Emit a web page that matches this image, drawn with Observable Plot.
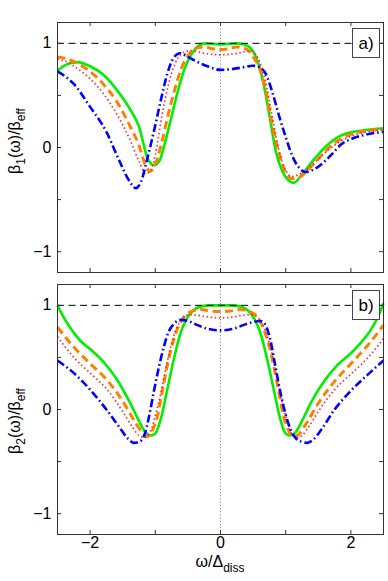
<!DOCTYPE html>
<html>
<head>
<meta charset="utf-8">
<script src="https://cdn.jsdelivr.net/npm/d3@7"></script>
<script src="https://cdn.jsdelivr.net/npm/@observablehq/plot@0.6"></script>
<style>
  html, body { margin: 0; padding: 0; background: #fff; }
  #chart svg { display: block; }
</style>
</head>
<body>
<div id="chart"></div>
<script>
// ---------- Data ----------
const xTicks = [-2, -1, 0, 1, 2];
const xTickLabels = [-2, 0, 2];
const yTicks = [-1, -0.5, 0, 0.5, 1];
const yTickLabels = [-1, 0, 1];
const refLine = [1];
const centerLine = [0];
const panelLabels = ["a)", "b)"];

// Panel a
const aGreenX = [-2.5,-2.35,-2.2,-2.0,-1.8,-1.6,-1.4,-1.25,-1.12,-1.02,-0.93,-0.85,-0.75,-0.65,-0.55,-0.45,-0.35,-0.25,-0.1,0,0.1,0.25,0.35,0.45,0.55,0.65,0.75,0.85,0.95,1.05,1.12,1.25,1.4,1.6,1.8,2.0,2.2,2.5];
const aGreenY = [0.74,0.80,0.82,0.78,0.70,0.56,0.38,0.20,-0.10,-0.17,-0.12,0.05,0.30,0.55,0.76,0.89,0.97,1.0,0.995,0.99,0.995,1.0,0.99,0.96,0.86,0.64,0.31,-0.04,-0.23,-0.32,-0.34,-0.26,-0.14,0.0,0.10,0.145,0.165,0.185];

const aOrangeX = [-2.5,-2.35,-2.2,-2.0,-1.8,-1.6,-1.4,-1.25,-1.15,-1.08,-1.0,-0.9,-0.8,-0.7,-0.6,-0.5,-0.4,-0.25,-0.1,0,0.1,0.25,0.4,0.5,0.6,0.7,0.8,0.9,1.0,1.1,1.2,1.35,1.5,1.7,1.9,2.1,2.3,2.5];
const aOrangeY = [0.87,0.85,0.81,0.73,0.61,0.45,0.22,0.02,-0.17,-0.23,-0.16,0.05,0.32,0.56,0.76,0.88,0.95,0.965,0.945,0.94,0.945,0.965,0.945,0.87,0.76,0.53,0.2,-0.06,-0.24,-0.30,-0.29,-0.21,-0.11,0.02,0.10,0.145,0.165,0.18];

const aRedX = [-2.5,-2.35,-2.2,-2.0,-1.8,-1.6,-1.4,-1.25,-1.15,-1.07,-1.0,-0.9,-0.8,-0.7,-0.6,-0.45,-0.3,-0.15,0,0.15,0.3,0.45,0.58,0.68,0.8,0.9,1.0,1.1,1.2,1.35,1.5,1.7,1.9,2.1,2.3,2.5];
const aRedY = [0.85,0.82,0.76,0.66,0.52,0.33,0.09,-0.13,-0.25,-0.22,-0.07,0.30,0.60,0.80,0.90,0.93,0.91,0.895,0.89,0.895,0.91,0.93,0.85,0.66,0.27,-0.04,-0.22,-0.28,-0.26,-0.2,-0.11,0.0,0.08,0.13,0.155,0.17];

const aBlueX = [-2.5,-2.25,-2.0,-1.75,-1.55,-1.4,-1.3,-1.22,-1.12,-1.02,-0.92,-0.82,-0.72,-0.62,-0.5,-0.35,-0.2,0,0.2,0.35,0.5,0.6,0.7,0.8,0.9,1.0,1.1,1.2,1.3,1.4,1.55,1.7,1.85,2.0,2.2,2.5];
const aBlueY = [0.73,0.61,0.39,0.15,-0.13,-0.32,-0.39,-0.33,-0.10,0.16,0.44,0.70,0.86,0.905,0.87,0.82,0.78,0.745,0.755,0.77,0.785,0.77,0.70,0.52,0.30,0.10,-0.08,-0.19,-0.235,-0.22,-0.16,-0.07,0.03,0.08,0.12,0.15];

// Panel b
const bGreenX = [-2.5,-2.4,-2.3,-2.15,-2.0,-1.8,-1.6,-1.4,-1.25,-1.15,-1.07,-1.0,-0.92,-0.82,-0.72,-0.62,-0.52,-0.42,-0.3,-0.15,0,0.15,0.3,0.42,0.52,0.62,0.72,0.82,0.92,1.0,1.07,1.15,1.25,1.4,1.6,1.8,2.0,2.15,2.3,2.4,2.5];
const bGreenY = [1.0,0.88,0.78,0.66,0.58,0.46,0.30,0.08,-0.11,-0.22,-0.25,-0.23,-0.10,0.18,0.47,0.72,0.87,0.95,0.99,1.0,1.0,1.0,0.99,0.95,0.87,0.72,0.47,0.18,-0.10,-0.23,-0.25,-0.22,-0.11,0.08,0.28,0.43,0.54,0.64,0.76,0.87,1.02];

const bOrangeX = [-2.5,-2.25,-2.0,-1.75,-1.5,-1.3,-1.2,-1.12,-1.05,-0.97,-0.87,-0.77,-0.67,-0.56,-0.45,-0.3,-0.15,0,0.15,0.3,0.45,0.56,0.67,0.77,0.87,0.97,1.05,1.12,1.2,1.3,1.5,1.75,2.0,2.25,2.5];
const bOrangeY = [0.79,0.60,0.44,0.29,0.08,-0.13,-0.22,-0.26,-0.21,-0.07,0.25,0.55,0.76,0.89,0.94,0.96,0.945,0.94,0.945,0.96,0.94,0.89,0.76,0.55,0.25,-0.07,-0.21,-0.26,-0.24,-0.15,0.06,0.27,0.44,0.61,0.81];

const bRedX = [-2.5,-2.25,-2.0,-1.75,-1.5,-1.35,-1.25,-1.17,-1.08,-1.0,-0.92,-0.82,-0.72,-0.6,-0.48,-0.3,-0.15,0,0.15,0.3,0.48,0.6,0.72,0.82,0.92,1.0,1.08,1.17,1.25,1.35,1.5,1.75,2.0,2.25,2.5];
const bRedY = [0.70,0.50,0.35,0.20,-0.02,-0.17,-0.25,-0.27,-0.22,-0.06,0.14,0.45,0.70,0.86,0.91,0.90,0.885,0.88,0.885,0.90,0.91,0.86,0.70,0.45,0.14,-0.06,-0.22,-0.27,-0.25,-0.17,-0.02,0.19,0.34,0.49,0.68];

const bBlueX = [-2.5,-2.25,-2.0,-1.75,-1.55,-1.42,-1.33,-1.25,-1.17,-1.1,-1.02,-0.94,-0.87,-0.8,-0.71,-0.61,-0.5,-0.35,-0.2,0,0.2,0.35,0.5,0.61,0.68,0.76,0.84,0.92,1.0,1.08,1.16,1.25,1.33,1.42,1.55,1.75,2.0,2.25,2.5];
const bBlueY = [0.47,0.35,0.19,0.0,-0.17,-0.28,-0.32,-0.31,-0.25,-0.08,0.18,0.42,0.60,0.74,0.825,0.86,0.85,0.81,0.775,0.76,0.775,0.81,0.84,0.85,0.82,0.68,0.42,0.16,-0.05,-0.2,-0.28,-0.31,-0.32,-0.29,-0.19,0.0,0.18,0.33,0.47];

// ---------- Helpers ----------
const zip = (xs, ys) => xs.map((x, i) => ({x, y: ys[i]}));
const fmt = d => (d < 0 ? "\u2212" : "") + Math.abs(d);
const seriesStyles = {
  green:  {stroke: "#00ee00", strokeWidth: 2.6},
  orange: {stroke: "#ff8000", strokeWidth: 3, strokeDasharray: "8,4.5"},
  red:    {stroke: "#ff2a2a", strokeWidth: 1.7, strokeDasharray: "1.5,2.6"},
  blue:   {stroke: "#0000ff", strokeWidth: 2.6, strokeDasharray: "8,3,1.6,3"}
};
const FONT = "Liberation Sans, Arial, Helvetica, sans-serif";
const W = 388, ML = 57, MR = 5;
const frameW = W - ML - MR, frameH = 250, TICK = 4;
const NS = "http://www.w3.org/2000/svg";

function panel({series, height, marginTop, marginBottom, showX}) {
  const lineMarks = [];
  for (const [name, xs, ys] of series) {
    lineMarks.push(Plot.line(zip(xs, ys), {x: "x", y: "y", curve: "monotone-x", strokeLinecap: "butt", ...seriesStyles[name]}));
  }
  const marks = [
    Plot.ruleX(centerLine, {stroke: "#777", strokeWidth: 1, strokeDasharray: "1,2.2"}),
    ...lineMarks,
    Plot.ruleY(refLine, {stroke: "#000", strokeWidth: 1, strokeDasharray: "7,4.5"}),
    Plot.tickX(xTicks, {x: d => d, insetTop: frameH - TICK, stroke: "#333"}),
    Plot.tickX(xTicks, {x: d => d, insetBottom: frameH - TICK, stroke: "#333"}),
    Plot.tickY(yTicks, {y: d => d, insetRight: frameW - TICK, stroke: "#333"}),
    Plot.tickY(yTicks, {y: d => d, insetLeft: frameW - TICK, stroke: "#333"}),
    Plot.frame({stroke: "#333", strokeWidth: 1}),
    Plot.axisY({ticks: yTickLabels, tickSize: 0, tickPadding: 6, label: null, fontSize: 16, tickFormat: fmt})
  ];
  if (showX) marks.push(Plot.axisX({ticks: xTickLabels, tickSize: 0, tickPadding: 2, label: null, fontSize: 16, tickFormat: fmt}));
  return Plot.plot({
    width: W, height, marginLeft: ML, marginRight: MR, marginTop, marginBottom,
    x: {domain: [-2.5, 2.5], axis: showX ? undefined : null},
    y: {domain: [-1.2, 1.2]},
    style: {fontFamily: FONT, fontSize: "16px", color: "#000", background: "#fff", overflow: "visible"},
    marks
  });
}

function el(tag, attrs, parent) {
  const e = document.createElementNS(NS, tag);
  for (const k in attrs) e.setAttribute(k, attrs[k]);
  if (parent) parent.appendChild(e);
  return e;
}
function subText(parent, attrs, parts) {
  const t = el("text", {"font-family": FONT, fill: "#000", ...attrs}, parent);
  let shift = 0;
  for (const [txt, sub] of parts) {
    const want = sub ? 4.5 : 0;
    const ts = el("tspan", {dy: want - shift, "font-size": sub ? 12 : 16}, t);
    ts.textContent = txt;
    shift = want;
  }
  return t;
}
function labelBox(svg, text, top) {
  el("rect", {x: 352.5, y: top + 0.5, width: 27, height: 29, fill: "#fff", stroke: "#444", "stroke-width": 1}, svg);
  const t = el("text", {x: 366, y: top + 21, "text-anchor": "middle", "font-family": FONT, "font-size": 17, fill: "#000"}, svg);
  t.textContent = text;
}

// ---------- Build ----------
const root = document.getElementById("chart");

const svgA = panel({
  series: [["green", aGreenX, aGreenY], ["orange", aOrangeX, aOrangeY], ["red", aRedX, aRedY], ["blue", aBlueX, aBlueY]],
  height: 280, marginTop: 22, marginBottom: 8, showX: false
});
labelBox(svgA, panelLabels[0], 28);
subText(svgA, {transform: "translate(20,141) rotate(-90)", "text-anchor": "middle"},
  [["β", false], ["1", true], ["(ω)/β", false], ["eff", true]]);
root.appendChild(svgA);

const svgB = panel({
  series: [["green", bGreenX, bGreenY], ["orange", bOrangeX, bOrangeY], ["red", bRedX, bRedY], ["blue", bBlueX, bBlueY]],
  height: 301, marginTop: 4, marginBottom: 47, showX: true
});
labelBox(svgB, panelLabels[1], 10);
subText(svgB, {transform: "translate(20,141) rotate(-90)", "text-anchor": "middle"},
  [["β", false], ["2", true], ["(ω)/β", false], ["eff", true]]);
subText(svgB, {x: 220, y: 287, "text-anchor": "middle"},
  [["ω/Δ", false], ["diss", true]]);
root.appendChild(svgB);
</script>
</body>
</html>
